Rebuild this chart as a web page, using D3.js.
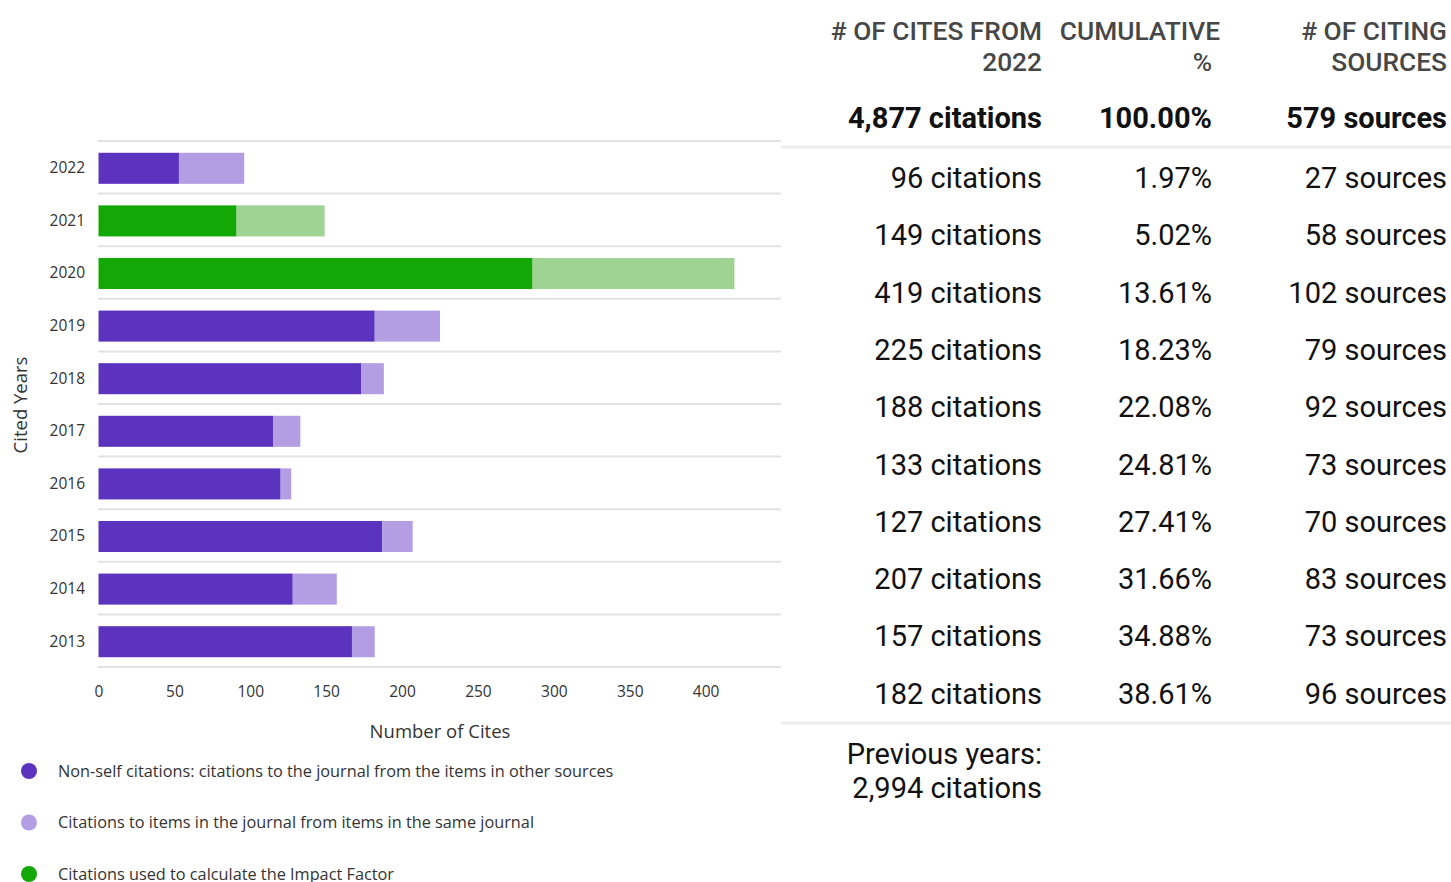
<!DOCTYPE html>
<html>
<head>
<meta charset="utf-8">
<script src="https://cdn.jsdelivr.net/npm/d3@7"></script>
<style>
  body { margin: 0; background: #fff; }
  svg { display: block; }
</style>
</head>
<body>
<div id="chart"></div>
<script>
// chart data
const years = ["2022", "2021", "2020", "2019", "2018", "2017", "2016", "2015", "2014", "2013"];
const nonSelf = [53, 91, 286, 182, 173, 115, 120, 187, 128, 167];
const selfCites = [43, 58, 133, 43, 15, 18, 7, 20, 29, 15];
const impactYears = ["2021", "2020"];
const xTicks = [0, 50, 100, 150, 200, 250, 300, 350, 400];

// table data
const citesText = ["96 citations", "149 citations", "419 citations", "225 citations", "188 citations",
  "133 citations", "127 citations", "207 citations", "157 citations", "182 citations"];
const cumulative = ["1.97%", "5.02%", "13.61%", "18.23%", "22.08%", "24.81%", "27.41%", "31.66%", "34.88%", "38.61%"];
const sources = ["27 sources", "58 sources", "102 sources", "79 sources", "92 sources",
  "73 sources", "70 sources", "83 sources", "73 sources", "96 sources"];
const headers = [["# OF CITES FROM", "2022"], ["CUMULATIVE", "%"], ["# OF CITING", "SOURCES"]];
const totals = ["4,877 citations", "100.00%", "579 sources"];
const previous = ["Previous years:", "2,994 citations"];

const legendItems = [
  {label: "Non-self citations: citations to the journal from the items in other sources", color: "#5c33bf"},
  {label: "Citations to items in the journal from items in the same journal", color: "#b39ee3"},
  {label: "Citations used to calculate the Impact Factor", color: "#14a806"}
];

const width = 1451, height = 882;
const chartFont = "'Open Sans', sans-serif";
const tableFont = "Roboto, sans-serif";

const svg = d3.select("#chart").append("svg")
  .attr("width", width)
  .attr("height", height);

const data = years.map((y, i) => ({year: y, nonSelf: nonSelf[i], self: selfCites[i]}));

const xScale = d3.scaleLinear().domain([0, 450]).range([98.5, 781.5]);
const yScale = d3.scaleBand().domain(years).range([141, 667])
  .paddingInner(0.41).paddingOuter(0.205);

const step = yScale.step();
const gap = step * yScale.paddingInner();

// grid lines between bars
const gridYs = years.map(y => yScale(y) - gap / 2).concat([667]);
svg.append("g").selectAll("line")
  .data(gridYs)
  .join("line")
  .attr("x1", 98).attr("x2", 781)
  .attr("y1", d => d).attr("y2", d => d)
  .attr("stroke", "#e2e2e2")
  .attr("stroke-width", 2);

const isIF = d => impactYears.includes(d.year);

// bars
const bars = svg.append("g").attr("transform", "translate(0, 1)");
bars.selectAll(".ns")
  .data(data)
  .join("rect")
  .attr("class", "ns")
  .attr("x", xScale(0))
  .attr("y", d => yScale(d.year))
  .attr("width", d => xScale(d.nonSelf) - xScale(0))
  .attr("height", yScale.bandwidth())
  .attr("fill", d => isIF(d) ? "#14a806" : "#5c33bf");

bars.selectAll(".sf")
  .data(data)
  .join("rect")
  .attr("class", "sf")
  .attr("x", d => xScale(d.nonSelf))
  .attr("y", d => yScale(d.year))
  .attr("width", d => xScale(d.nonSelf + d.self) - xScale(d.nonSelf))
  .attr("height", yScale.bandwidth())
  .attr("fill", d => isIF(d) ? "#9fd393" : "#b39ee3");

// axes
const xAxis = svg.append("g")
  .attr("transform", "translate(0, 667)")
  .call(d3.axisBottom(xScale).tickValues(xTicks).tickSize(0).tickPadding(19));
xAxis.select(".domain").remove();
xAxis.selectAll("text")
  .attr("font-family", chartFont)
  .attr("font-size", 15.5)
  .attr("fill", "#333");

const yAxis = svg.append("g")
  .attr("transform", "translate(98, 1)")
  .call(d3.axisLeft(yScale).tickSize(0).tickPadding(13));
yAxis.select(".domain").remove();
yAxis.selectAll("text")
  .attr("font-family", chartFont)
  .attr("font-size", 15.5)
  .attr("fill", "#333");

svg.append("text")
  .attr("x", 440).attr("y", 738)
  .attr("text-anchor", "middle")
  .attr("font-family", chartFont)
  .attr("font-size", 18.5)
  .attr("fill", "#333")
  .text("Number of Cites");

svg.append("text")
  .attr("transform", "translate(27, 405) rotate(-90)")
  .attr("text-anchor", "middle")
  .attr("font-family", chartFont)
  .attr("font-size", 18.5)
  .attr("fill", "#333")
  .text("Cited Years");

// legend
const legend = svg.append("g").selectAll("g")
  .data(legendItems)
  .join("g")
  .attr("transform", (d, i) => `translate(29, ${771 + i * 51.5})`);
legend.append("circle")
  .attr("r", 8)
  .attr("fill", d => d.color);
legend.append("text")
  .attr("x", 29)
  .attr("dy", "0.35em")
  .attr("font-family", chartFont)
  .attr("font-size", 16.3)
  .attr("fill", "#333")
  .text(d => d.label);

// table on the right
const colX = [1042, 1212, 1447];
const table = svg.append("g")
  .attr("font-family", tableFont)
  .attr("text-anchor", "end");

headers.forEach((h, c) => {
  h.forEach((line, k) => {
    // the long "CUMULATIVE" word overflows its column a little
    const shift = (c === 1 && k === 0) ? 8 : 0;
    table.append("text")
      .attr("x", colX[c] + shift)
      .attr("y", 40 + k * 31)
      .attr("font-size", 26.3)
      .attr("font-weight", 500)
      .attr("fill", "#474747")
      .text(line);
  });
});

totals.forEach((t, c) => {
  table.append("text")
    .attr("x", colX[c])
    .attr("y", 128)
    .attr("font-size", 29)
    .attr("font-weight", 700)
    .attr("fill", "#111")
    .text(t);
});

table.append("line")
  .attr("x1", 781).attr("x2", 1451)
  .attr("y1", 147).attr("y2", 147)
  .attr("stroke", "#ececec").attr("stroke-width", 3);

const rowY = i => 188 + i * 57.3;
[citesText, cumulative, sources].forEach((col, c) => {
  table.append("g").selectAll("text")
    .data(col)
    .join("text")
    .attr("x", colX[c])
    .attr("y", (d, i) => rowY(i))
    .attr("font-size", 29)
    .attr("fill", "#111")
    .text(d => d);
});

table.append("line")
  .attr("x1", 781).attr("x2", 1451)
  .attr("y1", 723).attr("y2", 723)
  .attr("stroke", "#ececec").attr("stroke-width", 3);

previous.forEach((t, k) => {
  table.append("text")
    .attr("x", colX[0])
    .attr("y", 764 + k * 34)
    .attr("font-size", 29)
    .attr("fill", "#111")
    .text(t);
});
</script>
</body>
</html>
